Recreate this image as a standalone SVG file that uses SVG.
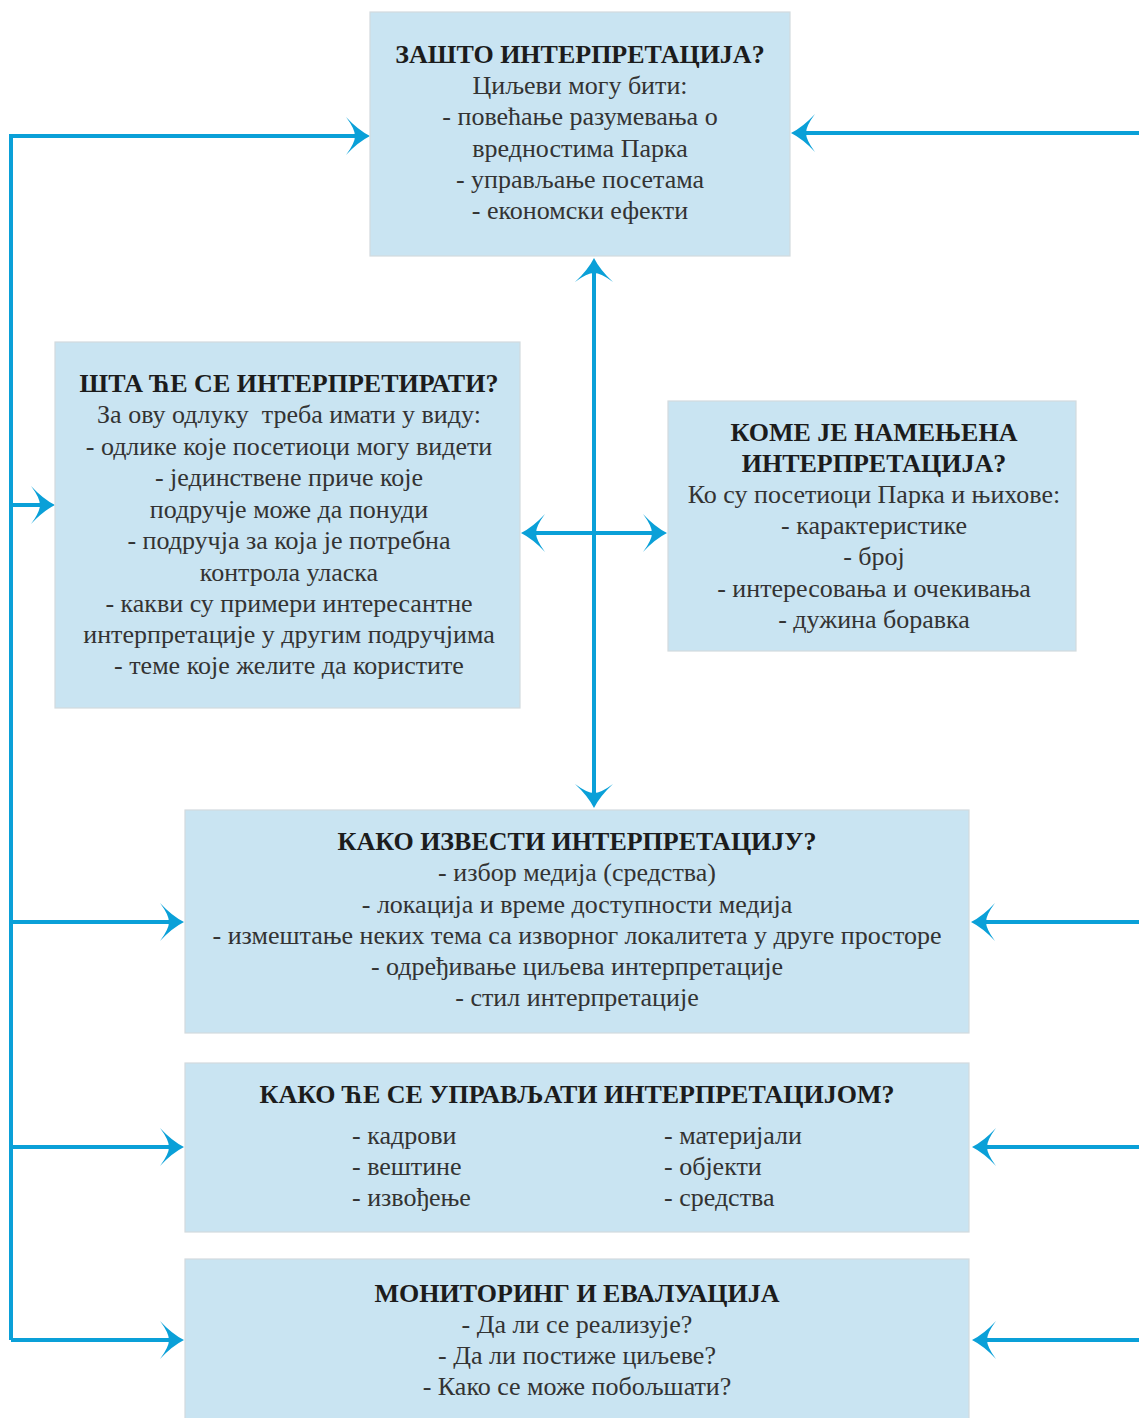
<svg xmlns="http://www.w3.org/2000/svg" width="1139" height="1418" viewBox="0 0 1139 1418">
<style>
.box{fill:#c9e4f2;stroke:#d3dade;stroke-width:1.2}
.h{font-family:"Liberation Serif","DejaVu Serif",serif;font-weight:bold;font-size:26px;fill:#1c1c1c;text-anchor:middle}
.t{font-family:"Liberation Serif","DejaVu Serif",serif;font-size:26px;fill:#333;text-anchor:middle}
.l{text-anchor:start}
.c{fill:none;stroke:#0aa0d8;stroke-width:4;stroke-linejoin:miter}
</style>
<defs>
<marker id="ah" markerUnits="userSpaceOnUse" viewBox="-26 -21 30 42" refX="-14" refY="0" markerWidth="30" markerHeight="42" orient="auto-start-reverse" overflow="visible">
<path d="M0,0 Q-12,-6 -24,-19 Q-15,-7 -15,0 Q-15,7 -24,19 Q-12,6 0,0 Z" fill="#0aa0d8"/>
</marker>
</defs>
<g id="connectors">
<path class="c" d="M11,1340 V136 H356" marker-end="url(#ah)"/>
<path class="c" d="M11,1340 H170" marker-end="url(#ah)"/>
<path class="c" d="M11,505 H41" marker-end="url(#ah)"/>
<path class="c" d="M11,922 H170" marker-end="url(#ah)"/>
<path class="c" d="M11,1147 H170" marker-end="url(#ah)"/>
<path class="c" d="M1145,133 H805" marker-end="url(#ah)"/>
<path class="c" d="M1145,922 H985" marker-end="url(#ah)"/>
<path class="c" d="M1145,1147 H986" marker-end="url(#ah)"/>
<path class="c" d="M1145,1340 H986" marker-end="url(#ah)"/>
<path class="c" d="M594,272 V794" marker-start="url(#ah)" marker-end="url(#ah)"/>
<path class="c" d="M535,533 H653" marker-start="url(#ah)" marker-end="url(#ah)"/>
</g>
<g id="node-zasto">
<rect class="box" x="370" y="12" width="420" height="244"/>
<text class="h" x="580" y="63">ЗАШТО ИНТЕРПРЕТАЦИЈА?</text>
<text class="t" x="580" y="94">Циљеви могу бити:</text>
<text class="t" x="580" y="125">- повећање разумевања о</text>
<text class="t" x="580" y="157">вредностима Парка</text>
<text class="t" x="580" y="188">- управљање посетама</text>
<text class="t" x="580" y="219">- економски ефекти</text>
</g>
<g id="node-sta">
<rect class="box" x="55" y="342" width="465" height="366"/>
<text class="h" x="289" y="392">ШТА ЋЕ СЕ ИНТЕРПРЕТИРАТИ?</text>
<text class="t" x="289" y="423" style="white-space:pre">За ову одлуку  треба имати у виду:</text>
<text class="t" x="289" y="455">- одлике које посетиоци могу видети</text>
<text class="t" x="289" y="486">- јединствене приче које</text>
<text class="t" x="289" y="518">подручје може да понуди</text>
<text class="t" x="289" y="549">- подручја за која је потребна</text>
<text class="t" x="289" y="581">контрола уласка</text>
<text class="t" x="289" y="612">- какви су примери интересантне</text>
<text class="t" x="289" y="643">интерпретације у другим подручјима</text>
<text class="t" x="289" y="674">- теме које желите да користите</text>
</g>
<g id="node-kome">
<rect class="box" x="668" y="401" width="408" height="250"/>
<text class="h" x="874" y="441">КОМЕ ЈЕ НАМЕЊЕНА</text>
<text class="h" x="874" y="472">ИНТЕРПРЕТАЦИЈА?</text>
<text class="t" x="874" y="503">Ко су посетиоци Парка и њихове:</text>
<text class="t" x="874" y="534">- карактеристике</text>
<text class="t" x="874" y="565">- број</text>
<text class="t" x="874" y="597">- интересовања и очекивања</text>
<text class="t" x="874" y="628">- дужина боравка</text>
</g>
<g id="node-kako-izvesti">
<rect class="box" x="185" y="810" width="784" height="223"/>
<text class="h" x="577" y="850">КАКО ИЗВЕСТИ ИНТЕРПРЕТАЦИЈУ?</text>
<text class="t" x="577" y="881">- избор медија (средства)</text>
<text class="t" x="577" y="913">- локација и време доступности медија</text>
<text class="t" x="577" y="944">- измештање неких тема са изворног локалитета у друге просторе</text>
<text class="t" x="577" y="975">- одређивање циљева интерпретације</text>
<text class="t" x="577" y="1006">- стил интерпретације</text>
</g>
<g id="node-upravljati">
<rect class="box" x="185" y="1063" width="784" height="169"/>
<text class="h" x="577" y="1103">КАКО ЋЕ СЕ УПРАВЉАТИ ИНТЕРПРЕТАЦИЈОМ?</text>
<text class="t l" x="352" y="1144">- кадрови</text>
<text class="t l" x="352" y="1175">- вештине</text>
<text class="t l" x="352" y="1206">- извођење</text>
<text class="t l" x="664" y="1144">- материјали</text>
<text class="t l" x="664" y="1175">- објекти</text>
<text class="t l" x="664" y="1206">- средства</text>
</g>
<g id="node-monitoring">
<rect class="box" x="185" y="1259" width="784" height="170"/>
<text class="h" x="577" y="1302">МОНИТОРИНГ И ЕВАЛУАЦИЈА</text>
<text class="t" x="577" y="1333">- Да ли се реализује?</text>
<text class="t" x="577" y="1364">- Да ли постиже циљеве?</text>
<text class="t" x="577" y="1395">- Како се може побољшати?</text>
</g>
</svg>
